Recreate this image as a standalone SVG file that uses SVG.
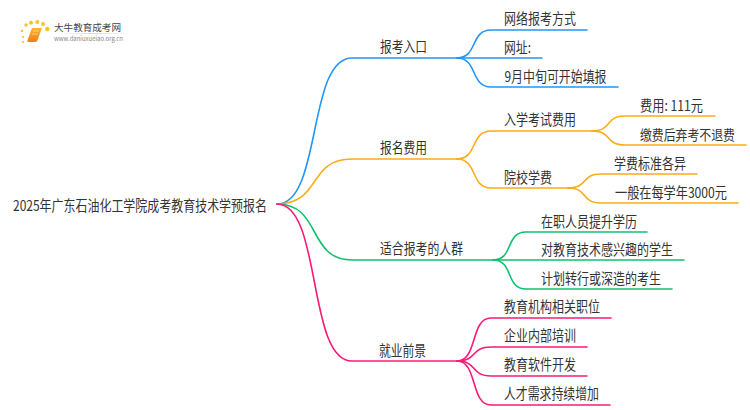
<svg xmlns="http://www.w3.org/2000/svg" width="750" height="410" viewBox="0 0 750 410">
<defs>
<style>
text{font-family:"Noto Sans CJK SC","Noto Sans",sans-serif;font-size:14.500px;fill:#333}
.c path{fill:none;stroke-width:1.6;stroke-linecap:round}
.b path{stroke:#2196f8}.o path{stroke:#fbac17}.g path{stroke:#10c070}.p path{stroke:#fb1a78}
</style>
<linearGradient id="bk" x1="0" y1="0" x2="0" y2="1"><stop offset="0" stop-color="#ffb52e"/><stop offset="1" stop-color="#ee7d12"/></linearGradient>
<linearGradient id="ln" x1="0" y1="0" x2="1" y2="0"><stop offset="0" stop-color="#ddd" stop-opacity="0"/><stop offset=".5" stop-color="#ccc"/><stop offset="1" stop-color="#ddd" stop-opacity="0"/></linearGradient>
</defs>
<rect width="750" height="410" fill="#fff"/>
<g id="logo">
<g fill="#fbc02d"><circle cx="23" cy="42" r="1.100"/><circle cx="23" cy="37" r="1.100"/><circle cx="22" cy="31" r="1.300"/><circle cx="26" cy="25" r="1.700"/><circle cx="31" cy="22.700" r="2"/><circle cx="37.300" cy="22" r="2"/><circle cx="43" cy="24" r="2"/><circle cx="47.300" cy="29" r="2.200"/></g>
<path d="M32 28H42L37 41.500Q32 42.500 27 41.500Z" fill="url(#bk)"/><path d="M33 31H39M32 34H38" stroke="#ffe0a0" stroke-width=".7"/>
<text x="54" y="31" textLength="67" lengthAdjust="spacingAndGlyphs" style="font-size:9.500px;fill:#444">大牛教育成考网</text>
<rect x="54" y="33" width="80" height=".8" fill="url(#ln)"/>
<text x="54" y="41" textLength="69" lengthAdjust="spacingAndGlyphs" style="font-size:6px;fill:#888">www.daniuxueiao.org.cn</text>
</g>
<g id="connectors" class="c">
<g class="b"><path d="M277 204C322 204 307 58 352 58H457"/><path d="M457 58C478 58 470 30 491 30H587"/><path d="M457 58H542"/><path d="M457 58C478 58 470 87 491 87H618"/></g>
<g class="o"><path d="M277 204C322 204 307 159 352 159H457"/><path d="M457 159C478 159 470 131 491 131H592"/><path d="M457 159C478 159 470 188 491 188H568"/><path d="M592 131C613 131 604 116 625 116H715"/><path d="M592 131C613 131 604 145 625 145H746"/><path d="M568 188C589 188 580 174 601 174H697"/><path d="M568 188C589 188 580 203 601 203H738"/></g>
<g class="g"><path d="M277 204C322 204 307 260 352 260H493"/><path d="M493 260C514 260 505 232 526 232H647"/><path d="M493 260H684"/><path d="M493 260C514 260 505 289 526 289H672"/></g>
<g class="p"><path d="M277 204C322 204 307 361 352 361H457"/><path d="M457 361C478 361 470 318 491 318H611"/><path d="M457 361C478 361 470 347 491 347H587"/><path d="M457 361C478 361 470 376 491 376H587"/><path d="M457 361C478 361 470 405 491 405H610"/></g>
</g>
<g id="root"><text x="13" y="211" textLength="254" lengthAdjust="spacingAndGlyphs">2025年广东石油化工学院成考教育技术学预报名</text></g>
<g id="n1"><text x="380" y="52" textLength="47" lengthAdjust="spacingAndGlyphs">报考入口</text></g>
<g id="n2"><text x="380" y="153" textLength="47" lengthAdjust="spacingAndGlyphs">报名费用</text></g>
<g id="n3"><text x="380" y="254" textLength="83" lengthAdjust="spacingAndGlyphs">适合报考的人群</text></g>
<g id="n4"><text x="379" y="356" textLength="47" lengthAdjust="spacingAndGlyphs">就业前景</text></g>
<g id="n1a"><text x="504" y="24" textLength="72" lengthAdjust="spacingAndGlyphs">网络报考方式</text></g>
<g id="n1b"><text x="504" y="53" textLength="27" lengthAdjust="spacingAndGlyphs">网址:</text></g>
<g id="n1c"><text x="504.500" y="82" textLength="102" lengthAdjust="spacingAndGlyphs">9月中旬可开始填报</text></g>
<g id="n2a"><text x="504" y="125" textLength="72" lengthAdjust="spacingAndGlyphs">入学考试费用</text></g>
<g id="n2b"><text x="504" y="183" textLength="48" lengthAdjust="spacingAndGlyphs">院校学费</text></g>
<g id="n2a1"><text x="640" y="111" textLength="63" lengthAdjust="spacingAndGlyphs">费用: 111元</text></g>
<g id="n2a2"><text x="640" y="140" textLength="95" lengthAdjust="spacingAndGlyphs" style="font-size:13.500px">缴费后弃考不退费</text></g>
<g id="n2b1"><text x="614" y="169" textLength="72" lengthAdjust="spacingAndGlyphs">学费标准各异</text></g>
<g id="n2b2"><text x="615" y="198" textLength="112" lengthAdjust="spacingAndGlyphs">一般在每学年3000元</text></g>
<g id="n3a"><text x="541" y="227" textLength="96" lengthAdjust="spacingAndGlyphs">在职人员提升学历</text></g>
<g id="n3b"><text x="541" y="255" textLength="132" lengthAdjust="spacingAndGlyphs">对教育技术感兴趣的学生</text></g>
<g id="n3c"><text x="541" y="284" textLength="120" lengthAdjust="spacingAndGlyphs">计划转行或深造的考生</text></g>
<g id="n4a"><text x="504" y="312" textLength="96" lengthAdjust="spacingAndGlyphs">教育机构相关职位</text></g>
<g id="n4b"><text x="504" y="341" textLength="72" lengthAdjust="spacingAndGlyphs">企业内部培训</text></g>
<g id="n4c"><text x="504" y="370" textLength="72" lengthAdjust="spacingAndGlyphs">教育软件开发</text></g>
<g id="n4d"><text x="504" y="399" textLength="95" lengthAdjust="spacingAndGlyphs">人才需求持续增加</text></g>
</svg>
